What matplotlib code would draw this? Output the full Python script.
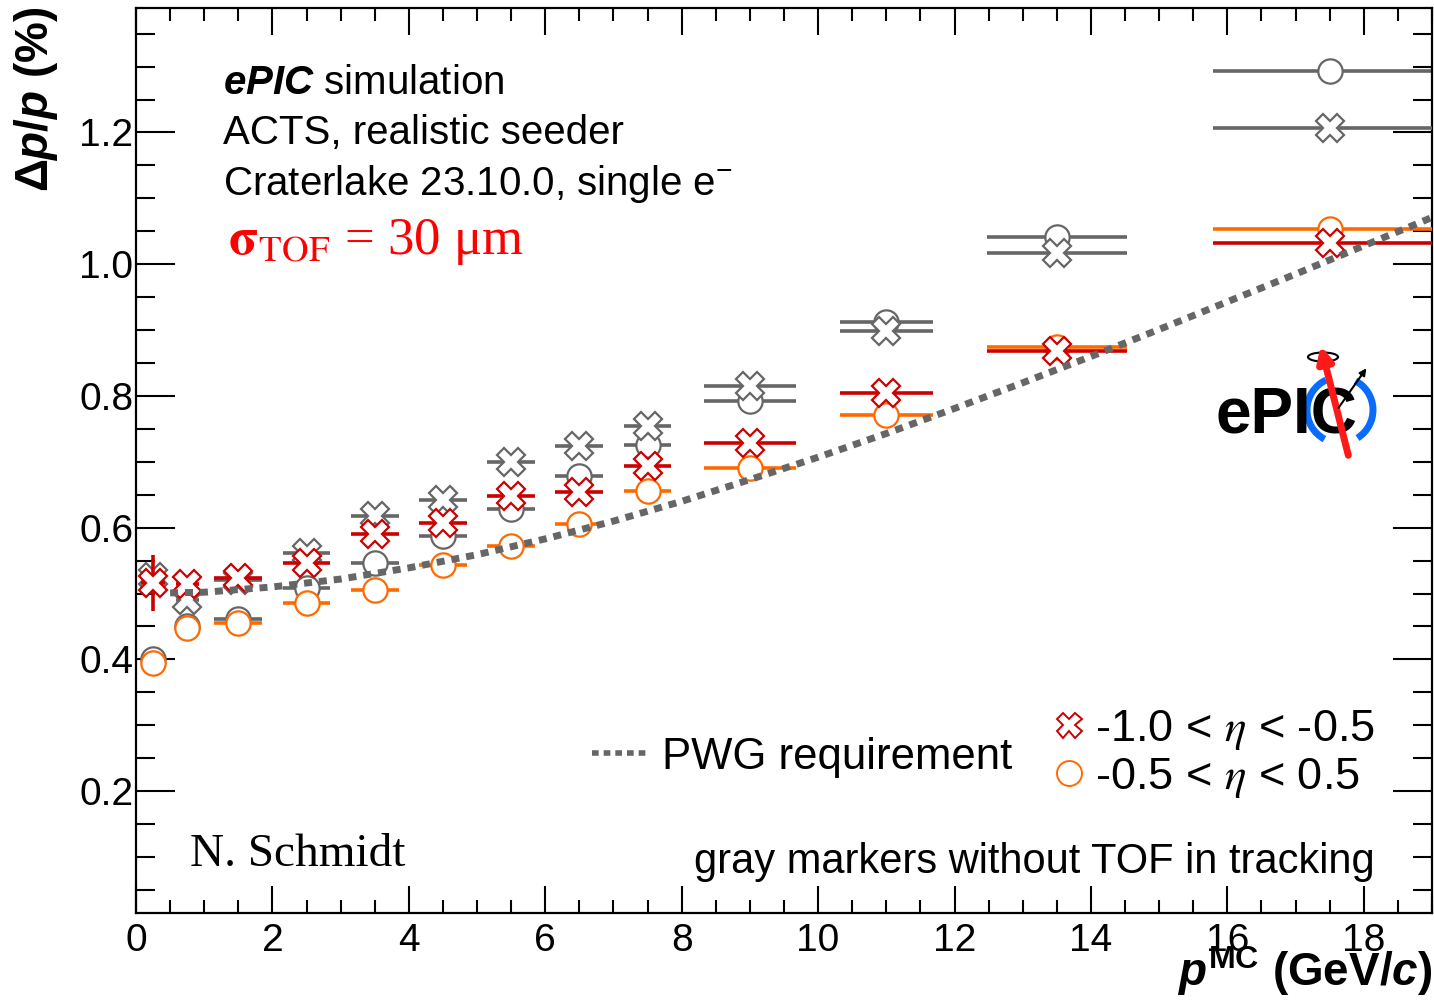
import matplotlib.pyplot as plt
import numpy as np
from matplotlib.lines import Line2D
from matplotlib.patches import Arc, Ellipse

plt.rcParams['font.family'] = ['Liberation Sans', 'DejaVu Sans']
plt.rcParams['mathtext.fontset'] = 'custom'
plt.rcParams['mathtext.rm'] = 'Liberation Sans:bold'
plt.rcParams['mathtext.it'] = 'Liberation Sans:bold:italic'
plt.rcParams['mathtext.bf'] = 'Liberation Sans:bold'

# momentum bins (GeV/c) and their horizontal bars
p_mc = [0.25, 0.75, 1.5, 2.5, 3.5, 4.5, 5.5, 6.5, 7.5, 9.0, 11.0, 13.5, 17.5]
p_err = [0.17, 0.17, 0.35, 0.35, 0.35, 0.35, 0.35, 0.35, 0.35, 0.68, 0.68, 1.03, 1.71]

# dp/p (%) with TOF in tracking
res_bwd = [0.516, 0.515, 0.523, 0.547, 0.591, 0.607, 0.648, 0.654, 0.693, 0.728, 0.804, 0.869, 1.032]
res_bwd_err = [0.042, 0, 0, 0, 0, 0, 0, 0, 0, 0, 0, 0, 0]
res_cen = [0.394, 0.447, 0.455, 0.485, 0.505, 0.544, 0.572, 0.605, 0.655, 0.690, 0.771, 0.874, 1.053]

# dp/p (%) without TOF in tracking (gray)
res_bwd_notof = [0.525, 0.490, 0.521, 0.561, 0.617, 0.642, 0.700, 0.724, 0.754, 0.815, 0.898, 1.017, 1.207]
res_cen_notof = [0.400, 0.450, 0.462, 0.508, 0.547, 0.588, 0.629, 0.678, 0.725, 0.792, 0.913, 1.041, 1.293]

# PWG requirement curve
pwg_p = [0.5, 1, 2, 3, 4, 5, 6, 7, 8, 9, 10, 11, 12, 13, 14, 15, 16, 17, 18, 19]
pwg_res = [0.501, 0.502, 0.510, 0.522, 0.539, 0.559, 0.583, 0.610, 0.640, 0.673,
           0.707, 0.743, 0.781, 0.820, 0.860, 0.901, 0.943, 0.985, 1.028, 1.071]

red = "#cc0000"
orange = "#ff6a00"
gray = "#666666"

W, H = 1434, 1000
fig = plt.figure(figsize=(14.34, 10), dpi=100)
ax = fig.add_axes([136/W, 87/H, 1296/W, 905/H])

def px(x, y):
    return x / W, 1 - y / H

def draw(y, yerr, color, marker, ms, z):
    ax.errorbar(p_mc, y, xerr=p_err, yerr=yerr, fmt=marker, color=color, ms=ms,
                mfc="white", mec=color, mew=1.6, elinewidth=2.6, capsize=0, zorder=z)

draw(res_cen_notof, None, gray, "o", 17.5, 2)
draw(res_cen, None, orange, "o", 17.5, 3)
draw(res_bwd_notof, None, gray, "X", 20, 4)
draw(res_bwd, res_bwd_err, red, "X", 20, 5)

ax.plot(pwg_p, pwg_res, color=gray, lw=5, ls=(0, (1.15, 1.0)),
        dash_capstyle="butt", zorder=6)

ax.set_xlim(0, 19)
ax.set_ylim(0.015, 1.389)
ax.set_xticks(np.arange(0, 19, 2))
ax.set_xticks(np.arange(0, 19.01, 0.5), minor=True)
ax.set_yticks([0.2, 0.4, 0.6, 0.8, 1.0, 1.2])
ax.set_yticks(np.arange(0.05, 1.389, 0.05), minor=True)
ax.set_yticklabels(["0.2", "0.4", "0.6", "0.8", "1.0", "1.2"])
for s in ax.spines.values():
    s.set_linewidth(1.6)
ax.tick_params(which="both", direction="in", top=True, right=True, width=1.5, labelsize=28)
ax.tick_params(axis="x", which="major", length=19.5, pad=7)
ax.tick_params(axis="x", which="minor", length=9.5)
ax.tick_params(axis="y", which="major", length=28, pad=2)
ax.tick_params(axis="y", which="minor", length=14)

# axis titles
fig.text(*px(36, 6), "Δ" + r"$p$/$p$ (%)", rotation=90,
         ha="center", va="top", fontsize=33, fontweight="bold")
fig.text(*px(1432, 998), r"$p^{\mathrm{MC}}$ (GeV/$c$)", ha="right", va="bottom",
         fontsize=33, fontweight="bold")

# annotations
fig.text(*px(223, 83), r"$\mathit{ePIC}$ simulation", fontsize=29, va="center")
fig.text(*px(223, 133), "ACTS, realistic seeder", fontsize=29, va="center")
fig.text(*px(223, 184), r"Craterlake 23.10.0, single e$^{\mathregular{-}}$", fontsize=29, va="center")
fig.text(*px(228, 242), r"$\mathbf{\sigma}_{\mathrm{TOF}}$ = 30 μm", fontsize=38, color="red",
         va="center", family="Liberation Serif", math_fontfamily="stix")
fig.text(*px(190, 855), "N. Schmidt", fontsize=34, va="center", family="Liberation Serif")
fig.text(*px(1375, 862), "gray markers without TOF in tracking", fontsize=30,
         va="center", ha="right")

# legends
h_pwg = Line2D([], [], color=gray, lw=4, ls=(0, (1.2, 0.9)), dash_capstyle="butt")
fig.legend([h_pwg], ["PWG requirement"], loc="center left", frameon=False,
           bbox_to_anchor=px(592, 757), fontsize=31.5,
           handlelength=1.3, handletextpad=0.3, borderaxespad=0, borderpad=0)
h_bwd = Line2D([], [], ls="none", marker="X", ms=18, mfc="white", mec=red, mew=1.4)
h_cen = Line2D([], [], ls="none", marker="o", ms=18, mfc="white", mec=orange, mew=1.4)
fig.legend([h_bwd, h_cen], ["-1.0 < $\\eta$ < -0.5", "-0.5 < $\\eta$ < 0.5"],
           loc="center left", frameon=False, prop={"size": 32.5, "math_fontfamily": "stix"},
           bbox_to_anchor=px(1053, 754),
           handlelength=0.7, handletextpad=0.22, labelspacing=0.1, borderaxespad=0, borderpad=0)

# ePIC logo
lax = fig.add_axes([1205/W, 1 - 470/H, 180/W, 135/H])
lax.set_xlim(1205, 1385)
lax.set_ylim(470, 335)
lax.axis("off")
lax.add_patch(Arc((1340, 410), 66, 66, theta1=-62, theta2=58, lw=5, color="#0a6cff"))
lax.add_patch(Arc((1340, 410), 66, 66, theta1=118, theta2=245, lw=5, color="#0a6cff"))
lax.text(1215, 433, "ePIC", fontsize=46, fontweight="bold", va="baseline", ha="left")
lax.annotate("", xy=(1320, 343), xytext=(1349, 458),
             arrowprops=dict(arrowstyle="-|>,head_length=0.9,head_width=0.45", lw=5, color="#ff1a1a"))
lax.annotate("", xy=(1368, 366), xytext=(1337, 410),
             arrowprops=dict(arrowstyle="-|>,head_length=0.4,head_width=0.2", lw=1.5, color="black"))
lax.add_patch(Ellipse((1323, 357), 30, 9, fill=False, lw=1.5, color="black"))

fig.savefig("out.png", dpi=100)
